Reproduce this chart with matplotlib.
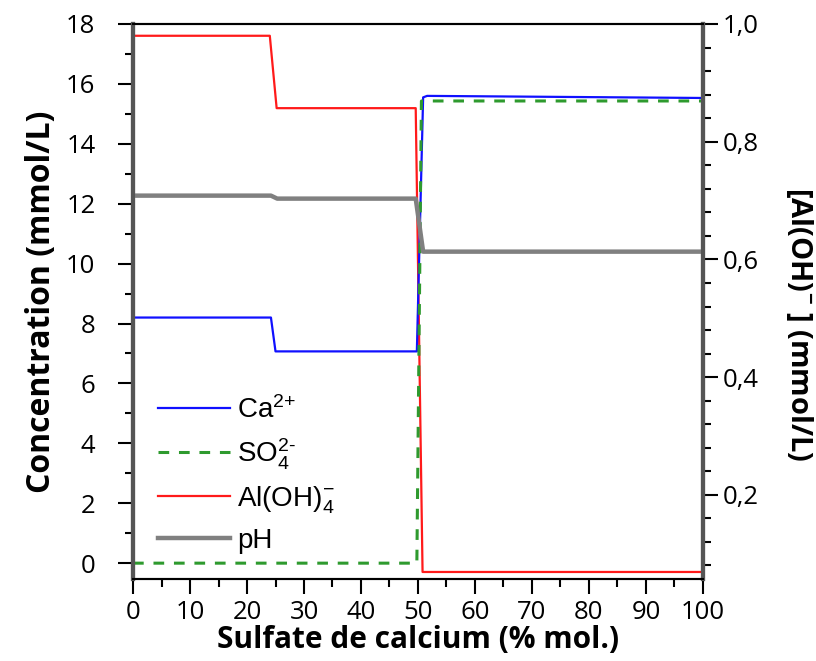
import matplotlib.pyplot as plt
from matplotlib.ticker import MultipleLocator, FuncFormatter

plt.rcParams['font.family'] = 'Open Sans'
plt.rcParams['mathtext.fontset'] = 'custom'
plt.rcParams['mathtext.rm'] = 'Liberation Sans'
plt.rcParams['mathtext.it'] = 'Liberation Sans'
plt.rcParams['mathtext.bf'] = 'Open Sans:bold'

# Données
x_ca = [0, 24.2, 25.0, 49.8, 50.9, 51.6, 100]
ca = [8.2, 8.2, 7.07, 7.07, 15.55, 15.6, 15.53]

x_so4 = [0, 49.8, 50.6, 100]
so4 = [0.0, 0.0, 15.43, 15.43]

x_ph = [0, 24.2, 25.3, 49.6, 50.9, 100]
ph = [12.27, 12.27, 12.17, 12.17, 10.4, 10.4]

x_al = [0, 24.0, 25.2, 49.6, 50.8, 100]
al = [0.98, 0.98, 0.857, 0.857, 0.069, 0.069]

fig = plt.figure(figsize=(8.16, 6.61), dpi=100)
ax = fig.add_axes([0.163, 0.124, 0.6985, 0.8397])
ax2 = ax.twinx()

l_ca, = ax.plot(x_ca, ca, color='#1010ff', lw=1.6, label='Ca$^{2{+}}$')
l_so4, = ax.plot(x_so4, so4, color='#2e9a2e', lw=2.2, ls=(0, (3.5, 3.2)),
                 label='SO$_4^{2\u2010}$')
l_ph, = ax.plot(x_ph, ph, color='#808080', lw=3.2, label='pH')
l_al, = ax2.plot(x_al, al, color='#ff1a1a', lw=1.6, label='Al(OH)$_4^{-}$')
ax.set_zorder(ax2.get_zorder() + 1)
ax.patch.set_visible(False)

ax.set_xlim(0, 100)
ax.set_ylim(-0.53, 18)
ax2.set_ylim(0.057, 1.0)

ax.xaxis.set_major_locator(MultipleLocator(10))
ax.xaxis.set_minor_locator(MultipleLocator(5))
ax.yaxis.set_major_locator(MultipleLocator(2))
ax.yaxis.set_minor_locator(MultipleLocator(1))
ax2.yaxis.set_major_locator(MultipleLocator(0.2))
ax2.yaxis.set_minor_locator(MultipleLocator(0.04))
ax2.yaxis.set_major_formatter(FuncFormatter(lambda v, p: f"{v:.1f}".replace(".", ",")))

for a in (ax, ax2):
    a.tick_params(which='major', length=11, width=1.5, labelsize=18.5, direction='out')
    a.tick_params(which='minor', length=6, width=1.5, direction='out')
    for s in ('top', 'bottom'):
        a.spines[s].set_linewidth(1.5)
        a.spines[s].set_color('black')
    for s in ('left', 'right'):
        a.spines[s].set_linewidth(3)
        a.spines[s].set_color('#555555')
ax.tick_params(axis='x', pad=4)
ax.tick_params(axis='y', pad=16)
ax2.tick_params(axis='y', colors='black', pad=3)

ax.set_xlabel('Sulfate de calcium (% mol.)', fontsize=21.5, fontweight='bold', labelpad=0)
ax.set_ylabel('Concentration (mmol/L)', fontsize=23, fontweight='bold', labelpad=6)
ax2.set_ylabel('[Al(OH)$^{\\mathbf{-}}$ ] (mmol/L)', fontsize=21, fontweight='bold',
               rotation=270, va='center')
ax2.yaxis.set_label_coords(1.17, 0.46)

leg = ax.legend(handles=[l_ca, l_so4, l_al, l_ph], loc='lower left',
                bbox_to_anchor=(0.0, 0.0), frameon=False, handlelength=2.6,
                labelspacing=0.45, handletextpad=0.25,
                prop={'family': 'Liberation Sans', 'size': 20})

plt.savefig('out.png', dpi=100)
plt.close()
